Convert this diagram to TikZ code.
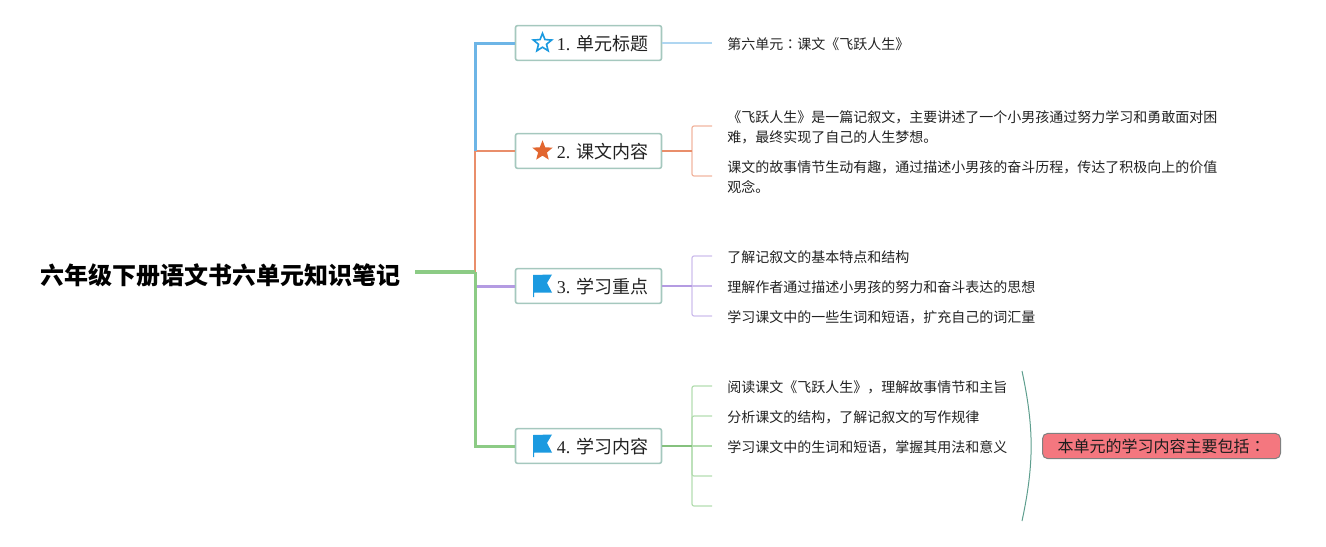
\documentclass[tikz,border=0pt]{standalone}
\usepackage{xcolor}
\usepackage{fontspec}
\usepackage{tikz}
\usetikzlibrary{shapes.geometric, calc}
\setmainfont{Liberation Serif}
\newfontfamily\cjk{Noto Sans CJK SC}
\newfontfamily\cjktc{Noto Sans CJK TC}
\definecolor{mapblue}{HTML}{6DB5E6}
\definecolor{maporange}{HTML}{E98E6B}
\definecolor{mappurple}{HTML}{B49BE2}
\definecolor{mapgreen}{HTML}{8CCB85}
\definecolor{boxedge}{HTML}{A5C8BE}
\definecolor{noteedge}{HTML}{5E9E8E}
\definecolor{notefill}{HTML}{F4777F}
\definecolor{iconblue}{HTML}{1B9AE0}
\definecolor{iconorange}{HTML}{E2662F}
\definecolor{textink}{HTML}{222222}

\begin{document}
\begin{tikzpicture}[
        x=0.75pt, y=-0.75pt,
        root/.style={font=\cjk\bfseries\fontsize{18}{22}\selectfont, text=black, inner sep=0pt},
        topic/.style={draw=boxedge, line width=1.2pt, fill=white, rounded corners=1.5pt, minimum width=109.5pt, minimum height=26pt, inner sep=0pt, text height=13pt, text depth=1.5pt, font=\fontsize{13.5}{16}\selectfont, text=textink},
        leaf/.style={anchor=west, align=left, inner sep=0pt, font=\cjk\fontsize{10.5}{15.2}\selectfont, text=textink},
        note/.style={draw=gray, line width=0.75pt, fill=notefill, rounded corners=4pt, minimum width=178.5pt, minimum height=19pt, inner sep=0pt, font=\cjk\fontsize{12}{14}\selectfont, text=textink!85!black},
        staricon/.style={star, star points=5, star point ratio=2.3, minimum size=14.5pt, inner sep=0pt},
        flagicon/.pic={
            \fill[iconblue] (-9.5,-11) -- (9.5,-11.5) -- (4.5,-3) -- (9.5,6.5) -- (-8.5,6.5) -- (-8.5,11) -- (-9.5,11) -- cycle;
        },
        branch/.style={line width=2.25pt},
        thinbranch/.style={line width=1.5pt},
        twig/.style={line width=1.1pt},
        stub/.style={line width=0.9pt, rounded corners=1.5pt}
    ]
        \useasboundingbox (0,0) rectangle (1326,546);

        % root and trunk points
        \node (root) [root] at (220,275) {六年级下册语文书六单元知识笔记};
        \coordinate (rootend) at (415,272);
        \coordinate (hub) at (475,272);

        % topics
        \node (t1) [topic] at (588.5,43) {\hspace*{21pt}1. {\cjk 单元标题}};
        \node (t2) [topic] at (588.5,151) {\hspace*{21pt}2. {\cjk 课文内容}};
        \node (t3) [topic] at (588.5,286) {\hspace*{21pt}3. {\cjk 学习重点}};
        \node (t4) [topic] at (588.5,446) {\hspace*{21pt}4. {\cjk 学习内容}};

        \node (i1) [staricon, draw=iconblue, line width=1.2pt, fill=white] at (542.5,43) {};
        \node (i2) [staricon, minimum size=16pt, fill=iconorange] at (542.5,151) {};
        \pic at (542.5,286) {flagicon};
        \pic at (542.5,446) {flagicon};

        % leaves
        \node (l11) [leaf] at (727,44) {第六单元{\cjktc ：}课文《飞跃人生》};
        \node (l21) [leaf] at (727,127) {《飞跃人生》是一篇记叙文，主要讲述了一个小男孩通过努力学习和勇敢面对困\\难，最终实现了自己的人生梦想。};
        \node (l22) [leaf] at (727,177) {课文的故事情节生动有趣，通过描述小男孩的奋斗历程，传达了积极向上的价值\\观念。};
        \node (l31) [leaf] at (727,257) {了解记叙文的基本特点和结构};
        \node (l32) [leaf] at (727,287) {理解作者通过描述小男孩的努力和奋斗表达的思想};
        \node (l33) [leaf] at (727,317) {学习课文中的一些生词和短语，扩充自己的词汇量};
        \node (l41) [leaf] at (727,387) {阅读课文《飞跃人生》，理解故事情节和主旨};
        \node (l42) [leaf] at (727,417) {分析课文的结构，了解记叙文的写作规律};
        \node (l43) [leaf] at (727,447) {学习课文中的生词和短语，掌握其用法和意义};

        % stub ends
        \coordinate (e11) at (712,43);
        \coordinate (e21) at (712,126);
        \coordinate (e22) at (712,176);
        \coordinate (e31) at (712,256);
        \coordinate (e32) at (712,286);
        \coordinate (e33) at (712,316);
        \coordinate (e41) at (712,386);
        \coordinate (e42) at (712,416);
        \coordinate (e43) at (712,446);
        \coordinate (e44) at (712,476);
        \coordinate (e45) at (712,506);
        \coordinate (j2) at (692,151);
        \coordinate (j3) at (692,286);
        \coordinate (j4) at (692,446);

        % trunk
        \draw [thinbranch, maporange] (hub) |- (t2.west);
        \draw [branch, mapblue] (t1.west) -| (475,151);
        \draw [branch, mappurple] (hub |- t3.west) -- (t3.west);
        \draw [branch, mapgreen] (hub) |- (t4.west);
        \draw [line width=2.6pt, mapgreen] (rootend) -- (hub);

        % twigs
        \draw [twig, mapblue!55] (t1.east) -- (e11);

        \draw [stub, maporange!65] (j2) |- (e21);
        \draw [stub, maporange!65] (j2) |- (e22);
        \draw [twig, maporange] (t2.east) -- (j2);

        \draw [stub, mappurple!65] (j3) |- (e31);
        \draw [stub, mappurple!65] (j3) |- (e33);
        \draw [stub, mappurple!65] (j3) -- (e32);
        \draw [twig, mappurple] (t3.east) -- (j3);

        \draw [stub, mapgreen!65] (j4) |- (e41);
        \draw [stub, mapgreen!65] (j4) |- (e42);
        \draw [stub, mapgreen!65] (j4) -- (e43);
        \draw [stub, mapgreen!65] (j4) |- (e44);
        \draw [stub, mapgreen!65] (j4) |- (e45);
        \draw [twig, mapgreen!95!black] (t4.east) -- (j4);

        % summary
        \node (sum) [note] at (1161.5,446) {本单元的学习内容主要包括{\cjktc ：}};
        \coordinate (s1) at (1022,371);
        \coordinate (s2) at (1022,521);
        \draw [noteedge, line width=0.75pt] (s1) to[bend left=12] (s2);
    \end{tikzpicture}
\end{document}
